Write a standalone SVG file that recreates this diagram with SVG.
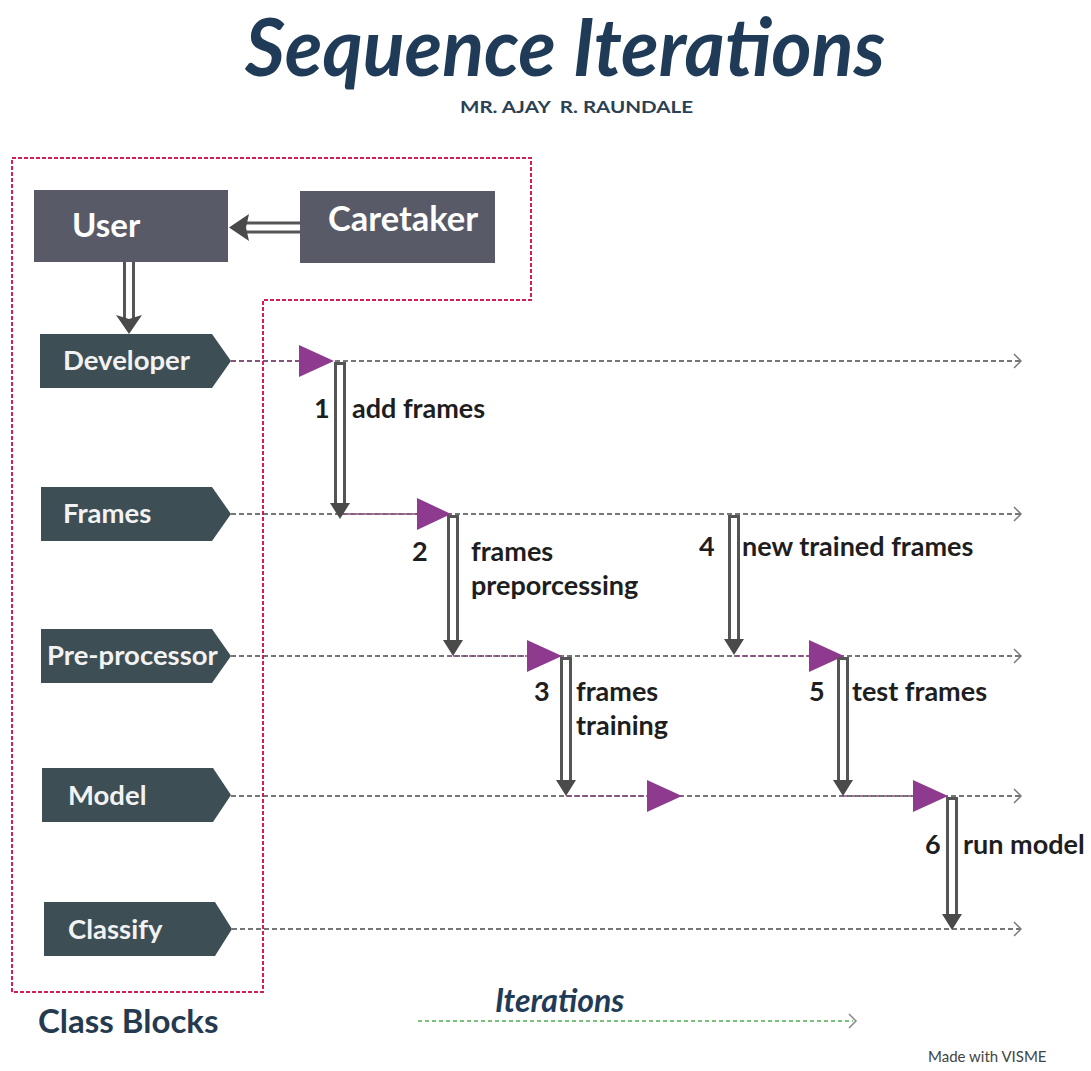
<svg xmlns="http://www.w3.org/2000/svg" width="1091" height="1071" viewBox="0 0 1091 1071">
<style>
  .title{font-family:Lato,"Open Sans",sans-serif;font-weight:700;font-style:italic;fill:#1f3b57}
  .sub{font-family:Lato,"Open Sans",sans-serif;font-weight:700;fill:#2b3f55}
  .box{fill:#585b67}
  .boxt{font-family:Lato,"Open Sans",sans-serif;font-weight:700;fill:#ffffff}
  .cls{fill:#3d4e54}
  .clst{font-family:Lato,"Open Sans",sans-serif;font-weight:700;font-size:27.5px;fill:#f2f2f2}
  .life{fill:none;stroke:#4a4a4a;stroke-width:1.5;stroke-dasharray:5 3}
  .pseg{fill:none;stroke:#8a4a80;stroke-width:1.5;stroke-dasharray:5 3}
  .chev{fill:none;stroke:#7a7a7a;stroke-width:1.5}
  .tri{fill:#8e3a8f}
  .dbo{stroke:#555555;stroke-width:12}
  .dbi{stroke:#ffffff;stroke-width:6}
  .head{fill:#4a4a4a}
  .lbl{font-family:Lato,"Open Sans",sans-serif;font-weight:700;font-size:27px;fill:#1e1e1e}
  .border{fill:none;stroke:#d21f5a;stroke-width:2;stroke-dasharray:4 2}
</style>

<g id="title">
  <text class="title" x="245" y="76" font-size="80" textLength="640" lengthAdjust="spacingAndGlyphs">Sequence Iterations</text>
  <text class="sub" x="460" y="113" font-size="17" textLength="233" lengthAdjust="spacingAndGlyphs" xml:space="preserve">MR. AJAY  R. RAUNDALE</text>
</g>

<g id="class-blocks-border">
  <path class="border" d="M12,158 H531 V300 H263 V992 H12 Z"/>
</g>

<g id="user">
  <rect class="box" x="34" y="190" width="194" height="72"/>
  <text class="boxt" x="72" y="237" font-size="33">User</text>
</g>
<g id="caretaker">
  <rect class="box" x="300" y="191" width="195" height="72"/>
  <text class="boxt" x="328" y="231" font-size="34.5">Caretaker</text>
</g>

<g id="developer">
  <path class="cls" d="M40,334 H212 L231,361 L212,388 H40 Z"/>
  <text class="clst" x="63" y="370">Developer</text>
</g>
<g id="frames">
  <path class="cls" d="M41,487 H212 L231,514 L212,541 H41 Z"/>
  <text class="clst" x="63" y="523">Frames</text>
</g>
<g id="pre-processor">
  <path class="cls" d="M41,629 H212 L231,656 L212,683 H41 Z"/>
  <text class="clst" x="47" y="665">Pre-processor</text>
</g>
<g id="model">
  <path class="cls" d="M42,768 H213 L231,795 L213,822 H42 Z"/>
  <text class="clst" x="68" y="805">Model</text>
</g>
<g id="classify">
  <path class="cls" d="M44,902 H215 L232,929 L215,956 H44 Z"/>
  <text class="clst" x="68" y="939">Classify</text>
</g>

<g id="connectors">
  <!-- Caretaker -> User -->
  <line class="dbo" x1="300" y1="227.5" x2="244" y2="227.5"/>
  <line class="dbi" x1="300" y1="227.5" x2="244" y2="227.5"/>
  <path class="head" d="M229,227.5 L249,214 L246,227.5 L249,241 Z"/>
  <!-- User -> Developer -->
  <line class="dbo" x1="129" y1="262" x2="129" y2="320"/>
  <line class="dbi" x1="129" y1="262" x2="129" y2="320"/>
  <path class="head" d="M116,315 L129,319 L142,315 L129,334 Z"/>

  <!-- lifelines -->
  <line class="life" x1="231" y1="361" x2="1020" y2="361"/>
  <polyline class="chev" points="1014,354 1021,361 1014,368"/>
  <line class="life" x1="231" y1="514" x2="1020" y2="514"/>
  <polyline class="chev" points="1014,507 1021,514 1014,521"/>
  <line class="life" x1="231" y1="656" x2="1020" y2="656"/>
  <polyline class="chev" points="1014,649 1021,656 1014,663"/>
  <line class="life" x1="231" y1="796" x2="1020" y2="796"/>
  <polyline class="chev" points="1014,789 1021,796 1014,803"/>
  <line class="life" x1="232" y1="929" x2="1020" y2="929"/>
  <polyline class="chev" points="1014,922 1021,929 1014,936"/>

  <!-- purple segments -->
  <line class="pseg" x1="231" y1="361" x2="300" y2="361"/>
  <line class="pseg" x1="340" y1="514" x2="417" y2="514"/>
  <line class="pseg" x1="453" y1="656" x2="527" y2="656"/>
  <line class="pseg" x1="734" y1="656" x2="809" y2="656"/>
  <line class="pseg" x1="566" y1="796" x2="647" y2="796"/>
  <line class="pseg" x1="843" y1="796" x2="913" y2="796"/>

  <!-- purple triangles -->
  <path class="tri" d="M299,345 L334,361 L299,377 Z"/>
  <path class="tri" d="M417,498 L451,514 L417,530 Z"/>
  <path class="tri" d="M527,640 L562,656 L527,672 Z"/>
  <path class="tri" d="M809,640 L844,656 L809,672 Z"/>
  <path class="tri" d="M647,780 L682,796 L647,812 Z"/>
  <path class="tri" d="M913,780 L948,796 L913,812 Z"/>

  <!-- vertical double arrows -->
  <line class="dbo" x1="340" y1="362" x2="340" y2="506"/>
  <line class="dbi" x1="340" y1="365" x2="340" y2="506"/>
  <path class="head" d="M330,503 L350,503 L340,519 Z"/>

  <line class="dbo" x1="453" y1="515" x2="453" y2="643"/>
  <line class="dbi" x1="453" y1="518" x2="453" y2="643"/>
  <path class="head" d="M443,640 L463,640 L453,656 Z"/>

  <line class="dbo" x1="734" y1="515" x2="734" y2="642"/>
  <line class="dbi" x1="734" y1="518" x2="734" y2="642"/>
  <path class="head" d="M724,639 L744,639 L734,655 Z"/>

  <line class="dbo" x1="566" y1="657" x2="566" y2="783"/>
  <line class="dbi" x1="566" y1="660" x2="566" y2="783"/>
  <path class="head" d="M556,780 L576,780 L566,796 Z"/>

  <line class="dbo" x1="843" y1="657" x2="843" y2="783"/>
  <line class="dbi" x1="843" y1="660" x2="843" y2="783"/>
  <path class="head" d="M833,780 L853,780 L843,796 Z"/>

  <line class="dbo" x1="952" y1="797" x2="952" y2="917"/>
  <line class="dbi" x1="952" y1="800" x2="952" y2="917"/>
  <path class="head" d="M942,914 L962,914 L952,930 Z"/>

  <!-- iterations arrow -->
  <line x1="418" y1="1021" x2="853" y2="1021" stroke="#4caf50" stroke-width="1.5" stroke-dasharray="4 3"/>
  <polyline points="849,1014 856,1021 849,1028" fill="none" stroke="#8a8a8a" stroke-width="1.5"/>
</g>

<g id="labels">
  <text class="lbl" x="314" y="418">1</text>
  <text class="lbl" x="352" y="418">add frames</text>
  <text class="lbl" x="412" y="561">2</text>
  <text class="lbl" x="471" y="561">frames</text>
  <text class="lbl" x="471" y="595">preporcessing</text>
  <text class="lbl" x="699" y="556">4</text>
  <text class="lbl" x="742" y="556">new trained frames</text>
  <text class="lbl" x="534" y="701">3</text>
  <text class="lbl" x="576" y="701">frames</text>
  <text class="lbl" x="576" y="735">training</text>
  <text class="lbl" x="809" y="701">5</text>
  <text class="lbl" x="852" y="701">test frames</text>
  <text class="lbl" x="925" y="854">6</text>
  <text class="lbl" x="963" y="854">run model</text>
</g>

<g id="footer">
  <text x="38" y="1033" font-family="Lato, 'Open Sans', sans-serif" font-weight="700" font-size="33" fill="#263a4f">Class Blocks</text>
  <text x="495" y="1012" font-family="Lato, 'Open Sans', sans-serif" font-weight="700" font-style="italic" font-size="32" fill="#1f3b57">Iterations</text>
  <text x="928" y="1062" font-family="Lato, 'Open Sans', sans-serif" font-size="15" fill="#444444">Made with VISME</text>
</g>
</svg>
